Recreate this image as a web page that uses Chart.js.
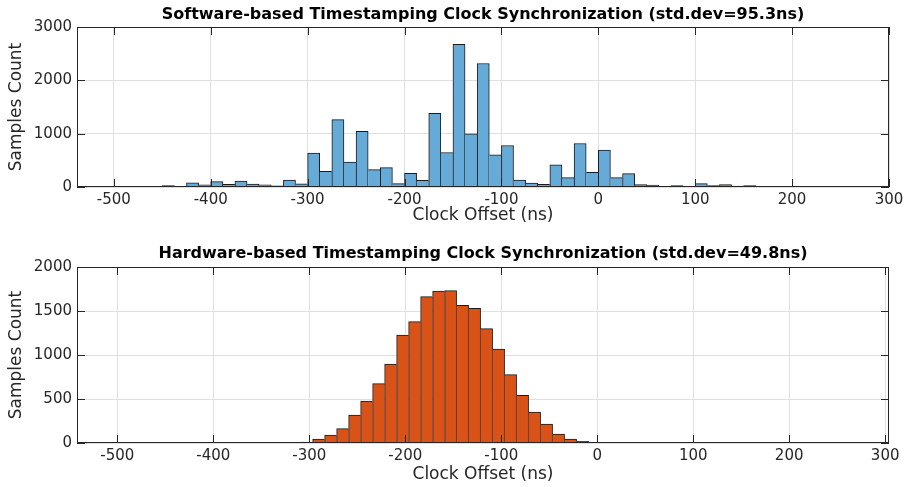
<!DOCTYPE html>
<html>
<head>
<meta charset="utf-8">
<script src="https://cdn.jsdelivr.net/npm/chart.js@4.4.0/dist/chart.umd.min.js"></script>
<style>
  body { margin: 0; background: #fff; }
  .box { position: absolute; left: 0; width: 904px; }
</style>
</head>
<body>
<div class="box" style="top:0;height:243px"><canvas id="sw"></canvas></div>
<div class="box" style="top:243px;height:244px"><canvas id="hw"></canvas></div>
<script>
// bin centres (ns) and counts
const swBins = [-443.75, -431.25, -418.75, -406.25, -393.75, -381.25, -368.75, -356.25, -343.75, -331.25,
  -318.75, -306.25, -293.75, -281.25, -268.75, -256.25, -243.75, -231.25, -218.75, -206.25,
  -193.75, -181.25, -168.75, -156.25, -143.75, -131.25, -118.75, -106.25, -93.75, -81.25,
  -68.75, -56.25, -43.75, -31.25, -18.75, -6.25, 6.25, 18.75, 31.25, 43.75,
  56.25, 68.75, 81.25, 93.75, 106.25, 118.75, 131.25, 143.75, 156.25]
const swCounts = [25, 10, 80, 40, 100, 50, 110, 55, 40, 20,
  130, 60, 634, 295, 1262, 465, 1042, 326, 364, 63,
  257, 126, 1381, 647, 2674, 998, 2316, 603, 778, 132,
  75, 50, 414, 176, 816, 276, 690, 176, 251, 44,
  38, 13, 25, 13, 63, 25, 44, 19, 25]

const hwBins = [-315.25, -302.75, -290.25, -277.75, -265.25, -252.75, -240.25, -227.75, -215.25, -202.75,
  -190.25, -177.75, -165.25, -152.75, -140.25, -127.75, -115.25, -102.75, -90.25, -77.75,
  -65.25, -52.75, -40.25, -27.75, -15.25, -2.75, 9.75]
const hwCounts = [4, 11, 45, 91, 163, 318, 477, 674, 898, 1227,
  1379, 1663, 1727, 1731, 1564, 1530, 1299, 1068, 777, 542,
  352, 216, 102, 45, 19, 5, 1]

const xTicks = [-500, -400, -300, -200, -100, 0, 100, 200, 300]
const swYTicks = [0, 1000, 2000, 3000]
const hwYTicks = [0, 500, 1000, 1500, 2000]

Chart.defaults.font.family = 'DejaVu Sans'
Chart.defaults.color = '#262626'

// matlab style box with ticks pointing inwards
const boxTicks = {
  id: 'boxTicks',
  afterDraw(chart) {
    const { ctx, chartArea: a, scales: { x, y } } = chart
    ctx.save()
    ctx.strokeStyle = '#262626'
    ctx.lineWidth = 1
    ctx.beginPath()
    x.ticks.forEach(t => {
      const px = Math.round(x.getPixelForValue(t.value)) + 0.5
      ctx.moveTo(px, a.bottom); ctx.lineTo(px, a.bottom - 8)
      ctx.moveTo(px, a.top); ctx.lineTo(px, a.top + 8)
    })
    y.ticks.forEach(t => {
      const py = Math.round(y.getPixelForValue(t.value)) + 0.5
      ctx.moveTo(a.left, py); ctx.lineTo(a.left + 8, py)
      ctx.moveTo(a.right, py); ctx.lineTo(a.right - 8, py)
    })
    ctx.stroke()
    ctx.strokeRect(a.left + 0.5, a.top + 0.5, a.width - 1, a.height - 1)
    ctx.restore()
  }
}

// outline shared edges only once, like the matlab histogram
function edgeWidths(values) {
  return c => {
    const i = c.dataIndex, v = values[i]
    const prev = i > 0 ? values[i - 1] : 0
    const next = i < values.length - 1 ? values[i + 1] : 0
    return { top: 1, bottom: 0, left: prev <= v ? 1 : 0, right: next < v ? 1 : 0 }
  }
}

function makeHist(id, bins, counts, yTicks, opts) {
  const ctx = document.getElementById(id).getContext('2d')
  return new Chart(ctx, {
    type: 'bar',
    data: {
      datasets: [{
        data: bins.map((b, i) => ({ x: b, y: counts[i] })),
        backgroundColor: opts.color,
        borderColor: '#1a1a1a',
        borderWidth: edgeWidths(counts),
        borderSkipped: false,
        barPercentage: 1,
        categoryPercentage: 1
      }]
    },
    plugins: [boxTicks],
    options: {
      responsive: true,
      maintainAspectRatio: false,
      animation: false,
      layout: { padding: { top: 0, right: 15, bottom: 0, left: 0 } },
      plugins: {
        legend: { display: false },
        tooltip: { enabled: false },
        title: {
          display: true,
          text: opts.title,
          fullSize: false,
          color: '#000',
          font: { size: 16, weight: 'bold', lineHeight: '19px' },
          padding: opts.titlePad
        }
      },
      scales: {
        x: {
          type: 'linear',
          offset: false,
          min: opts.xMin,
          max: opts.xMax,
          afterBuildTicks: s => { s.ticks = xTicks.map(v => ({ value: v })) },
          afterFit: s => { s.height = opts.xHeight; s.paddingLeft = 0; s.paddingRight = 0 },
          ticks: { font: { size: 15 }, padding: 4, maxRotation: 0, autoSkip: false },
          grid: { color: '#dfdfdf', drawTicks: false, offset: false },
          border: { display: false },
          title: {
            display: true,
            text: 'Clock Offset (ns)',
            font: { size: 17 },
            padding: { top: 0, bottom: opts.xTitlePad }
          }
        },
        y: {
          min: 0,
          max: yTicks[yTicks.length - 1],
          afterBuildTicks: s => { s.ticks = yTicks.map(v => ({ value: v })) },
          afterFit: s => { s.width = 77; s.paddingTop = 0; s.paddingBottom = 0 },
          ticks: { font: { size: 15 }, padding: 5, callback: v => String(v) },
          grid: { color: '#dfdfdf', drawTicks: false },
          border: { display: false },
          title: {
            display: true,
            text: 'Samples Count',
            font: { size: 17 },
            padding: { top: 6, bottom: 0 }
          }
        }
      }
    }
  })
}

makeHist('sw', swBins, swCounts, swYTicks, {
  title: 'Software-based Timestamping Clock Synchronization (std.dev=95.3ns)',
  color: 'rgb(102,170,215)',
  xMin: -538, xMax: 300,
  xHeight: 56, xTitlePad: 17,
  titlePad: { top: 5, bottom: 3 }
})

makeHist('hw', hwBins, hwCounts, hwYTicks, {
  title: 'Hardware-based Timestamping Clock Synchronization (std.dev=49.8ns)',
  color: 'rgb(217,83,25)',
  xMin: -542, xMax: 304,
  xHeight: 44, xTitlePad: 2,
  titlePad: { top: 1, bottom: 4 }
})
</script>
</body>
</html>
